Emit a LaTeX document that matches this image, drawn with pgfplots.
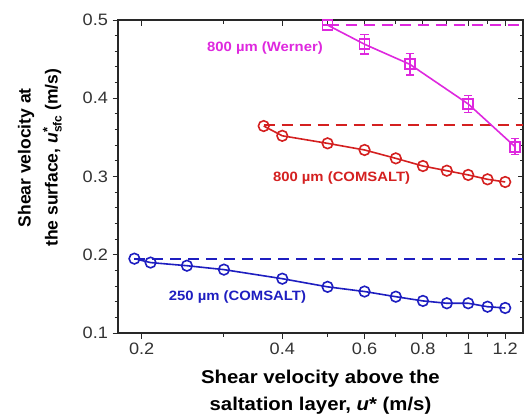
\documentclass[border=0pt]{standalone}
\usepackage{pgfplots}
\pgfplotsset{compat=1.18}
\usepackage{fontspec}
\setmainfont{Liberation Sans}[FakeStretch=1.1]
\newfontfamily\plainsans{Liberation Sans}
\definecolor{cmag}{RGB}{222,40,222}
\definecolor{cred}{RGB}{212,32,32}
\definecolor{cblue}{RGB}{30,30,192}
\definecolor{axgray}{RGB}{40,40,40}
\begin{document}
\begin{tikzpicture}
\path[use as bounding box] (-118pt,-85pt) rectangle (412pt,333pt);
\begin{axis}[
  at={(0,0)}, anchor=south west, scale only axis,
  width=405pt, height=313pt,
  xmode=log, xmin=0.178, xmax=1.31, ymin=0.1, ymax=0.5,
  xtick={0.2,0.4,0.6,0.8,1,1.2},
  minor xtick={0.3,0.5,0.7,0.9,1.1},
  ytick={0.1,0.2,0.3,0.4,0.5},
  minor y tick num=4,
  major tick length=5.5pt, minor tick length=3.5pt,
  every tick/.style={axgray, line width=1pt},
  axis line style={axgray, line width=1.1pt},
  tick align=inside, xtick pos=right, ytick pos=right,
  xticklabels={}, yticklabels={}]
\end{axis}
\begin{axis}[
  at={(0,0)}, anchor=south west, scale only axis,
  width=405pt, height=313pt,
  xmode=log, xmin=0.178, xmax=1.31, ymin=0.1, ymax=0.5,
  xtick={0.2,0.4,0.6,0.8,1,1.2},
  minor xtick={0.3,0.5,0.7,0.9,1.1},
  ytick={0.1,0.2,0.3,0.4,0.5},
  minor y tick num=4,
  major tick length=5.5pt, minor tick length=3.5pt,
  every tick/.style={axgray, line width=1pt},
  axis line style={axgray, line width=1.1pt},
  tick align=outside, xtick pos=left, ytick pos=left,
  xticklabels={0.2,0.4,0.6,0.8,1,1.2},
  yticklabels={0.1,0.2,0.3,0.4,0.5},
  /pgf/number format/assume math mode=true,
  tick label style={font=\fontsize{16.5}{16.5}\selectfont, text=black!80},
  xticklabel style={yshift=-1pt},
  yticklabel style={xshift=-1pt},
  xlabel={Shear velocity above the\\saltation layer, \textit{u}* (m/s)},
  xlabel style={at={(axis description cs:0.5,-0.19)}, anchor=center, align=center,
    font=\fontsize{18.5}{27}\selectfont\bfseries},
  ylabel={Shear velocity at\\the surface, \textit{u}\makebox[0pt][l]{\raisebox{0.6ex}{\fontsize{13}{13}\selectfont *}}\raisebox{-0.45ex}{\fontsize{12}{12}\selectfont sfc} (m/s)},
  ylabel style={at={(axis description cs:-0.193,0.56)}, anchor=center, align=center,
    font=\plainsans\fontsize{17.5}{27}\selectfont\bfseries},
]
% dashed reference lines
\addplot[cblue, line width=1.8pt, dash pattern=on 11pt off 7pt] coordinates {(0.193,0.195) (1.31,0.195)};
\addplot[cred, line width=1.8pt, dash pattern=on 11pt off 7pt] coordinates {(0.365,0.3655) (1.31,0.3655)};
\addplot[cmag, line width=1.8pt, dash pattern=on 11pt off 7pt] coordinates {(0.5,0.4935) (1.31,0.4935)};
% 250 um COMSALT
\addplot[cblue, line width=1.6pt, mark=o, mark size=5.3pt,
  mark options={fill=white, line width=1.6pt, solid}] coordinates {
  (0.193,0.195) (0.209,0.190) (0.25,0.186) (0.3,0.181) (0.4,0.1694)
  (0.5,0.159) (0.6,0.153) (0.7,0.1464) (0.8,0.141) (0.9,0.138)
  (1.0,0.138) (1.1,0.1336) (1.2,0.132)};
% 800 um COMSALT
\addplot[cred, line width=1.6pt, mark=o, mark size=5.3pt,
  mark options={fill=white, line width=1.6pt, solid}] coordinates {
  (0.365,0.3645) (0.4,0.352) (0.5,0.3424) (0.6,0.3339) (0.7,0.3232)
  (0.8,0.3134) (0.9,0.3074) (1.0,0.302) (1.1,0.2964) (1.2,0.293)};
% 800 um Werner
\addplot[cmag, line width=1.6pt, mark=square, mark size=5pt,
  mark options={fill=white, line width=1.6pt, solid},
  error bars/.cd, y dir=both, y explicit,
  error bar style={line width=1.4pt, cmag},
  error mark options={rotate=90, mark size=4.2pt, line width=1.4pt, cmag}]
  coordinates {
  (0.5,0.4935) +- (0,0)
  (0.6,0.469) +- (0,0.0125)
  (0.75,0.4434) +- (0,0.0139)
  (1.0,0.3927) +- (0,0.0107)
  (1.26,0.338) +- (0,0.0102)};
\node[cmag, font=\fontsize{13.5}{13.5}\selectfont\bfseries] at (rel axis cs:0.363,0.911) {800 µm (Werner)};
\node[cred, font=\fontsize{13.5}{13.5}\selectfont\bfseries] at (rel axis cs:0.552,0.495) {800 µm (COMSALT)};
\node[cblue, font=\fontsize{13.5}{13.5}\selectfont\bfseries] at (rel axis cs:0.295,0.115) {250 µm (COMSALT)};
\end{axis}
\end{tikzpicture}
\end{document}
